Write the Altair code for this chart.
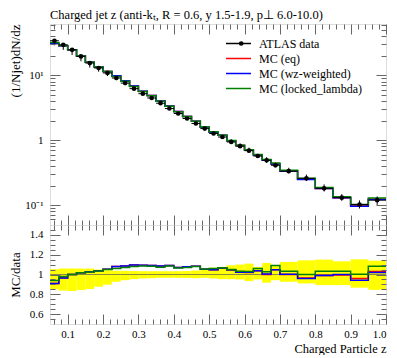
import altair as alt
import pandas as pd

# ---------------- values ----------------
bin_lo = [0.05, 0.075, 0.1, 0.125, 0.15, 0.175, 0.2, 0.225, 0.25, 0.275, 0.3, 0.325,
          0.35, 0.375, 0.4, 0.425, 0.45, 0.475, 0.5, 0.525, 0.55, 0.575, 0.6, 0.625,
          0.65, 0.675, 0.7, 0.75, 0.8, 0.85, 0.9, 0.95]
bin_hi = [0.075, 0.1, 0.125, 0.15, 0.175, 0.2, 0.225, 0.25, 0.275, 0.3, 0.325, 0.35,
          0.375, 0.4, 0.425, 0.45, 0.475, 0.5, 0.525, 0.55, 0.575, 0.6, 0.625, 0.65,
          0.675, 0.7, 0.75, 0.8, 0.85, 0.9, 0.95, 1.0]
data_vals = [34.2, 29.6, 24.8, 19.6, 15.5, 13.0, 10.9, 9.1, 7.6, 6.24, 5.22, 4.48,
             3.72, 3.08, 2.58, 2.16, 1.81, 1.51, 1.27, 1.12, 0.94, 0.81, 0.69, 0.57,
             0.49, 0.41, 0.333, 0.258, 0.181, 0.130, 0.102, 0.119]
# relative data uncertainty band (yellow band in the ratio panel)
band_lo = [0.85, 0.837, 0.833, 0.843, 0.853, 0.877, 0.897, 0.927, 0.943, 0.953, 0.96, 0.963,
           0.967, 0.967, 0.967, 0.965, 0.963, 0.967, 0.96, 0.953, 0.953, 0.95, 0.933, 0.95,
           0.917, 0.943, 0.927, 0.91, 0.893, 0.893, 0.867, 0.845]
band_hi = [1.053, 1.06, 1.06, 1.06, 1.06, 1.05, 1.043, 1.037, 1.037, 1.035, 1.033, 1.033,
           1.033, 1.033, 1.033, 1.035, 1.04, 1.06, 1.07, 1.077, 1.093, 1.1, 1.11, 1.077,
           1.117, 1.093, 1.127, 1.143, 1.15, 1.133, 1.153, 1.14]
# MC / data ratios
ratio_eq = [0.91, 0.965, 1.0, 1.017, 1.027, 1.037, 1.053, 1.08, 1.085, 1.097, 1.093, 1.09,
            1.085, 1.09, 1.07, 1.078, 1.083, 1.053, 1.048, 1.065, 1.045, 1.023, 1.02, 1.037,
            1.0, 1.047, 1.0, 0.965, 0.99, 0.995, 0.96, 1.03]
ratio_wz = [0.91, 0.965, 1.0, 1.017, 1.027, 1.037, 1.053, 1.08, 1.085, 1.095, 1.093, 1.09,
            1.085, 1.09, 1.07, 1.078, 1.083, 1.053, 1.048, 1.065, 1.047, 1.023, 1.023, 1.037,
            1.005, 1.047, 1.003, 0.96, 0.99, 1.0, 0.943, 1.02]
ratio_ll = [0.94, 0.98, 1.0, 1.017, 1.025, 1.035, 1.05, 1.06, 1.07, 1.08, 1.085, 1.083,
            1.073, 1.085, 1.065, 1.07, 1.08, 1.055, 1.06, 1.068, 1.05, 1.033, 1.03, 1.06,
            1.027, 1.09, 1.033, 1.0, 1.033, 1.033, 1.003, 1.083]

series_names = ["ATLAS data", "MC (eq)", "MC (wz-weighted)", "MC (locked_lambda)"]
series_colors = ["black", "#ff0000", "#0000ff", "#008000"]

title_text = "Charged jet z (anti-kₜ, R = 0.6, y 1.5-1.9, p⊥ 6.0-10.0)"
y_main_title = "(1/Njet)dN/dz"
y_ratio_title = "MC/data"
x_title = "Charged Particle z"

x_major = [0.1, 0.2, 0.3, 0.4, 0.5, 0.6, 0.7, 0.8, 0.9, 1.0]
x_minor = [0.06, 0.08, 0.12, 0.14, 0.16, 0.18, 0.22, 0.24, 0.26, 0.28, 0.32, 0.34, 0.36, 0.38,
           0.42, 0.44, 0.46, 0.48, 0.52, 0.54, 0.56, 0.58, 0.62, 0.64, 0.66, 0.68, 0.72, 0.74,
           0.76, 0.78, 0.82, 0.84, 0.86, 0.88, 0.92, 0.94, 0.96, 0.98]
y_main_major = [0.1, 1, 10]
y_main_minor = [0.05, 0.06, 0.07, 0.08, 0.09, 0.2, 0.3, 0.4, 0.5, 0.6, 0.7, 0.8, 0.9,
                2, 3, 4, 5, 6, 7, 8, 9, 20, 30, 40, 50, 60]
y_rat_major = [0.6, 0.8, 1.0, 1.2, 1.4]
y_rat_minor = [0.55, 0.65, 0.7, 0.75, 0.85, 0.9, 0.95, 1.05, 1.1, 1.15, 1.25, 1.3, 1.35, 1.45]

# ---------------- tables ----------------
bins = pd.DataFrame({
    "lo": bin_lo, "hi": bin_hi, "data": data_vals,
    "blo": band_lo, "bhi": band_hi,
})
bins["mid"] = (bins["lo"] + bins["hi"]) / 2
bins["ylo"] = bins["data"] * bins["blo"]
bins["yhi"] = bins["data"] * bins["bhi"]
bins["series"] = series_names[0]

rows_main, rows_rat = [], []
for name, ratios in zip(series_names[1:], [ratio_eq, ratio_wz, ratio_ll]):
    for i, (lo, hi, d, r) in enumerate(zip(bin_lo, bin_hi, data_vals, ratios)):
        rows_main.append({"series": name, "x": lo, "y": d * r, "idx": 2 * i})
        rows_main.append({"series": name, "x": hi, "y": d * r, "idx": 2 * i + 1})
        rows_rat.append({"series": name, "x": lo, "y": r, "idx": 2 * i})
        rows_rat.append({"series": name, "x": hi, "y": r, "idx": 2 * i + 1})
steps_main = pd.DataFrame(rows_main)
steps_rat = pd.DataFrame(rows_rat)
one_line = pd.DataFrame({"y": [1.0]})

# ---------------- styling ----------------
FONT = "Liberation Serif"
TICK = "#666666"
W, H_MAIN, H_RAT = 336, 201, 99
MAJ, MIN = 10, 5
PT_SIZE = 22

x_scale = alt.Scale(domain=[0.05, 1.0], nice=False, zero=False)
y_main_scale = alt.Scale(type="log", domain=[0.0492, 62], nice=False)
y_rat_scale = alt.Scale(domain=[0.5, 1.5], nice=False, zero=False)


def tick_axis(orient, values, size, **extra):
    opts = dict(orient=orient, values=values, tickSize=size, offset=-size, domain=False,
                grid=False, labels=False, title=None, tickColor=TICK, tickWidth=1, zindex=2)
    opts.update(extra)
    return alt.Axis(**opts)


legend = alt.Legend(
    orient="none", legendX=175, legendY=13, title=None, symbolType="stroke",
    symbolSize=625, symbolStrokeWidth=1.5, labelFont=FONT, labelFontSize=12,
    labelOffset=7, clipHeight=13, rowPadding=2, labelColor="black")
color = alt.Color("series:N", scale=alt.Scale(domain=series_names, range=series_colors),
                  legend=legend)
# marker dot of the "ATLAS data" legend entry (no label, sits on the first row)
dot_legend = alt.Legend(
    orient="none", legendX=185.2, legendY=13, title=None, symbolType="circle",
    symbolSize=PT_SIZE, symbolFillColor="black", symbolStrokeColor="black",
    symbolStrokeWidth=0, clipHeight=13, labelExpr="''", labelFontSize=12, labelFont=FONT)
shape = alt.Shape("series:N", scale=alt.Scale(domain=series_names[:1], range=["circle"]),
                  legend=dot_legend)

# ----- main panel -----
main_axes = [
    (tick_axis("bottom", x_major, MAJ),
     tick_axis("left", y_main_major, MAJ, labels=True, labelPadding=7, labelFont=FONT,
               labelFontSize=11, labelColor="black",
               labelExpr="datum.value == 10 ? '10¹' : (datum.value == 1 ? '1' : '10⁻¹')",
               title=y_main_title, titleFont=FONT, titleFontSize=13, titleFontWeight="normal",
               titleColor="black", titleAngle=270, titleAlign="right", titleBaseline="top",
               titleX=-51, titleY=0)),
    (tick_axis("bottom", x_minor, MIN), tick_axis("left", y_main_minor, MIN)),
    (tick_axis("top", x_major, MAJ), tick_axis("right", y_main_major, MAJ)),
]
main_layers = []
for (xa, ya), name in zip(main_axes, series_names[1:]):
    main_layers.append(
        alt.Chart(steps_main).transform_filter(alt.datum.series == name)
        .mark_line(strokeWidth=1.5, clip=True)
        .encode(x=alt.X("x:Q", scale=x_scale, axis=xa),
                y=alt.Y("y:Q", scale=y_main_scale, axis=ya),
                order="idx:Q", color=color)
    )
xerr = alt.Chart(bins).mark_rule(color="black", strokeWidth=1).encode(
    x=alt.X("lo:Q", scale=x_scale, axis=tick_axis("top", x_minor, MIN)), x2="hi:Q",
    y=alt.Y("data:Q", scale=y_main_scale, axis=tick_axis("right", y_main_minor, MIN)))
yerr = alt.Chart(bins).mark_rule(color="black", strokeWidth=1).encode(
    x=alt.X("mid:Q", scale=x_scale, axis=None),
    y=alt.Y("ylo:Q", scale=y_main_scale, axis=None), y2="yhi:Q")
pts = alt.Chart(bins).mark_point(filled=True, color="black", size=PT_SIZE, opacity=1).encode(
    x=alt.X("mid:Q", scale=x_scale, axis=None),
    y=alt.Y("data:Q", scale=y_main_scale, axis=None),
    shape=shape)

main = alt.layer(*main_layers, xerr, yerr, pts).resolve_axis(
    x="independent", y="independent").properties(
    width=W, height=H_MAIN,
    title=alt.TitleParams(title_text, anchor="start", frame="group", font=FONT, fontSize=12.5,
                          fontWeight="normal", color="black", offset=2))

# ----- ratio panel -----
band = alt.Chart(bins).mark_rect(color="#ffff00", opacity=1).encode(
    x=alt.X("lo:Q", scale=x_scale,
            axis=tick_axis("bottom", x_major, MAJ, labels=True, format=".1f", labelPadding=4,
                           labelFont=FONT, labelFontSize=11, labelColor="black",
                           title=x_title, titleFont=FONT, titleFontSize=12.5,
                           titleFontWeight="normal", titleColor="black", titleAnchor="end",
                           titleAlign="right", titleBaseline="alphabetic", titleX=W, titleY=38)),
    x2="hi:Q",
    y=alt.Y("blo:Q", scale=y_rat_scale,
            axis=tick_axis("left", y_rat_major, MAJ, labels=True, labelPadding=7,
                           labelFont=FONT, labelFontSize=11, labelColor="black",
                           labelExpr="datum.value == 1 ? '1' : format(datum.value, '.1f')",
                           title=y_ratio_title, titleFont=FONT, titleFontSize=13,
                           titleFontWeight="normal", titleColor="black", titleAngle=270,
                           titleAlign="center", titleBaseline="top", titleX=-51,
                           titleY=H_RAT / 2)),
    y2="bhi:Q")
unity = alt.Chart(one_line).mark_rule(color="#8c8c3c", strokeWidth=1).encode(
    y=alt.Y("y:Q", scale=y_rat_scale, axis=tick_axis("left", y_rat_minor, MIN)))
rat_axes = [
    (tick_axis("bottom", x_minor, MIN), tick_axis("right", y_rat_major, MAJ)),
    (tick_axis("top", x_major, MAJ), tick_axis("right", y_rat_minor, MIN)),
    (tick_axis("top", x_minor, MIN), None),
]
rat_layers = []
for (xa, ya), name, col in zip(rat_axes, series_names[1:], series_colors[1:]):
    rat_layers.append(
        alt.Chart(steps_rat).transform_filter(alt.datum.series == name)
        .mark_line(strokeWidth=1.5, clip=True, color=col)
        .encode(x=alt.X("x:Q", scale=x_scale, axis=xa),
                y=alt.Y("y:Q", scale=y_rat_scale, axis=ya),
                order="idx:Q")
    )
ratio = alt.layer(band, unity, *rat_layers).resolve_axis(
    x="independent", y="independent").properties(width=W, height=H_RAT)

chart = alt.vconcat(main, ratio, spacing=0, bounds="flush").resolve_legend(
    color="independent", shape="independent").resolve_scale(
    color="independent", shape="independent").properties(
    padding=0, background="white").configure_view(
    stroke="#555555", strokeWidth=1).configure(font=FONT)

chart.save("out.html", embed_options={"renderer": "svg", "actions": False})
